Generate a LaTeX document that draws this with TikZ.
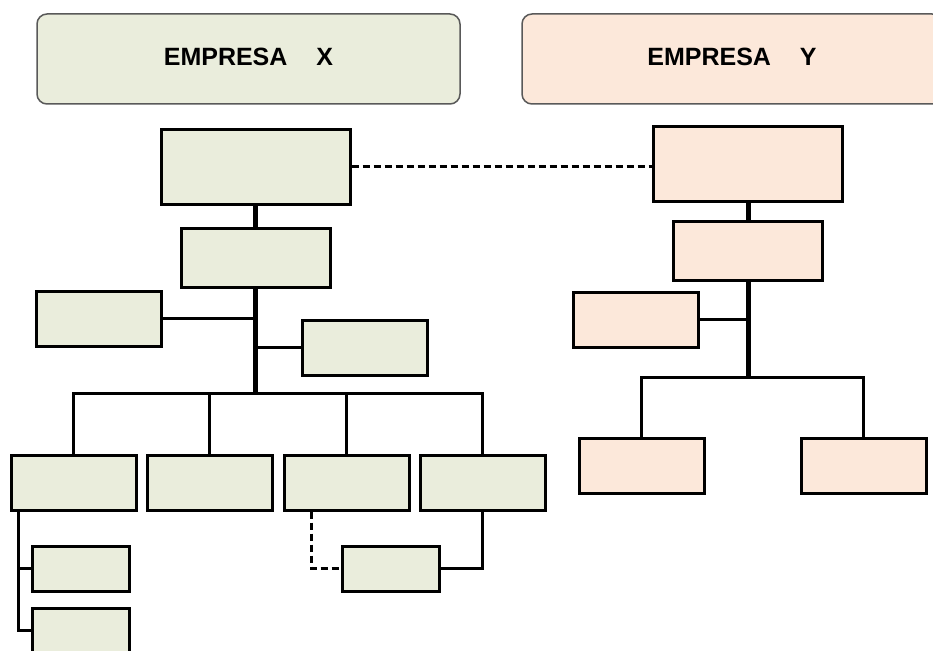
\documentclass[tikz,border=0pt]{standalone}
\usepackage{fontspec}
\setmainfont{Liberation Sans}
\usetikzlibrary{positioning}
\definecolor{verdex}{RGB}{234,237,220}
\definecolor{rosay}{RGB}{252,232,218}

\begin{document}
\begin{tikzpicture}[x=1pt,y=-1pt,line width=2.5pt,on grid=true,
        box/.style = {draw, line width=3pt, inner sep=0pt},
        lg/.style = {box, minimum width=189pt, minimum height=75pt},
        md/.style = {box, minimum width=149pt, minimum height=59pt},
        sm/.style = {box, minimum width=125pt, minimum height=55pt},
        xs/.style = {box, minimum width=97pt, minimum height=45pt},
        head/.style = {draw=black!65, line width=1.5pt, rounded corners=10pt, minimum width=423pt, minimum height=90pt, text height=18pt, text depth=5pt, font=\bfseries\fontsize{25}{30}\selectfont},
        trunk/.style = {line width=5pt},
        link/.style = {dash pattern=on 7pt off 4pt}]
        \useasboundingbox (0,0) rectangle (933,650);
        \clip (0,0) rectangle (933,650);

        \node[head,fill=verdex] (hx) at (248.5,59) {EMPRESA\hspace{29pt}X};
        \node[head,fill=rosay,minimum width=420pt] (hy) at (732,59) {EMPRESA\hspace{29pt}Y};

        \node[lg,fill=verdex] (a) at (255.5,166.5) {};
        \node[md,fill=verdex] (b) [below=91pt of a] {};
        \node[sm,fill=verdex] (c) [below left=61pt and 157pt of b] {};
        \node[sm,fill=verdex] (d) [below right=90pt and 109pt of b] {};
        \node[sm,fill=verdex] (e1) [below left=225pt and 182pt of b] {};
        \node[sm,fill=verdex] (e2) [right=136pt of e1] {};
        \node[sm,fill=verdex] (e3) [right=137pt of e2] {};
        \node[sm,fill=verdex] (e4) [right=136pt of e3] {};
        \node[xs,fill=verdex] (f1) [below right=86pt and 7pt of e1] {};
        \node[xs,fill=verdex] (f2) [below=62pt of f1] {};
        \node[xs,fill=verdex] (g) [below right=86pt and 44.5pt of e3] {};

        \coordinate (hubx) at ([yshift=-105pt]b.south);
        \coordinate (e1l) at ([xshift=9pt]e1.south west);

        \draw[trunk] (a) -- (b);
        \draw[trunk] (b) -- (hubx);
        \draw (c) -- (c -| b);
        \draw (d) -- (d -| b);
        \draw (e1) |- (hubx) -| (e4);
        \draw (e2) -- (e2 |- hubx);
        \draw (e3) -- (e3 |- hubx);
        \draw (e1l) |- (f2);
        \draw (f1) -- (f1 -| e1l);
        \draw[link] ([xshift=29pt]e3.south west) |- (g);
        \draw (e4) |- (g);

        \node[lg,fill=rosay] (p) [above right=3pt and 492.5pt of a] {};
        \node[md,fill=rosay] (q) [below=87pt of p] {};
        \node[sm,fill=rosay] (r) [below left=69pt and 112pt of q] {};
        \node[sm,fill=rosay] (s1) [below left=215pt and 106.5pt of q] {};
        \node[sm,fill=rosay] (s2) [right=222pt of s1] {};

        \coordinate (huby) at ([yshift=-96pt]q.south);

        \draw[link] (a.east) -- (a.east -| p.west);
        \draw[trunk] (p) -- (q);
        \draw[trunk] (q) -- (huby);
        \draw (r) -- (r -| q);
        \draw (s1) |- (huby) -| (s2);
\end{tikzpicture}
\end{document}
